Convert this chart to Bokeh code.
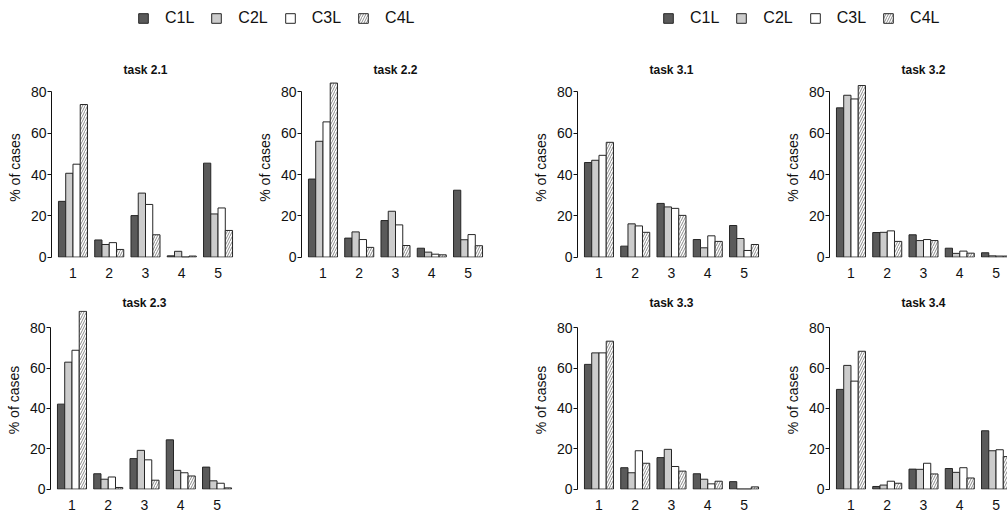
from bokeh.plotting import figure
from bokeh.models import Range1d, FixedTicker, Legend, LegendItem
from bokeh.layouts import column, row
from bokeh.embed import file_html
from bokeh.resources import INLINE

# ---------------- data ----------------
categories = ["1", "2", "3", "4", "5"]
series = ["C1L", "C2L", "C3L", "C4L"]
y_ticks = [0, 20, 40, 60, 80]

# each panel: one list per series (C1L, C2L, C3L, C4L), values per category 1..5
task_2_1 = [[27.0, 8.3, 20.1, 0.6, 45.5],
            [40.6, 6.1, 31.0, 2.8, 20.9],
            [45.0, 7.0, 25.5, 0.0, 23.8],
            [73.9, 3.7, 10.8, 0.5, 12.9]]
task_2_2 = [[37.8, 9.2, 17.7, 4.3, 32.4],
            [56.1, 12.2, 22.2, 2.4, 8.4],
            [65.5, 8.5, 15.6, 1.4, 10.9],
            [84.3, 4.7, 5.6, 1.1, 5.5]]
task_2_3 = [[42.1, 7.6, 15.1, 24.4, 10.9],
            [62.9, 4.9, 19.2, 9.3, 4.1],
            [68.8, 6.0, 14.5, 8.1, 2.9],
            [88.1, 0.8, 4.4, 6.5, 0.6]]
task_3_1 = [[45.8, 5.3, 26.0, 8.5, 15.3],
            [46.9, 16.1, 24.3, 4.5, 9.0],
            [49.3, 15.1, 23.6, 10.3, 3.2],
            [55.6, 12.0, 20.2, 7.6, 6.1]]
task_3_2 = [[72.3, 11.9, 10.8, 4.3, 2.1],
            [78.4, 12.0, 8.0, 1.8, 0.6],
            [76.6, 12.7, 8.5, 2.9, 0.5],
            [83.1, 7.6, 8.0, 1.9, 0.5]]
task_3_3 = [[61.8, 10.6, 15.6, 7.6, 3.7],
            [67.5, 8.1, 19.7, 4.9, 0.0],
            [67.5, 19.0, 11.2, 2.6, 0.0],
            [73.3, 12.8, 8.9, 3.9, 1.1]]
task_3_4 = [[49.4, 1.3, 9.9, 10.2, 28.9],
            [61.3, 2.0, 9.8, 8.3, 19.0],
            [53.5, 3.9, 12.8, 10.6, 19.5],
            [68.3, 2.9, 7.5, 5.5, 16.1]]

# ---------------- styles ----------------
FONT = "Liberation Sans"
LINE = "#262626"
STYLES = [
    dict(fill_color="#5a5a5a"),
    dict(fill_color="#cccccc"),
    dict(fill_color="#ffffff"),
    dict(fill_color="#ffffff", hatch_pattern="/", hatch_color="#8c8c8c",
         hatch_scale=5, hatch_weight=1),
]
PX_PER_UNIT = 188 / 25.92
GROUP = len(series) + 1  # bars per group + one gap


def bar_x(si):
    return [1.5 + GROUP * gi + si for gi in range(len(categories))]


def panel(title, values, width, left, right, top, frame_h, bottom,
          y_end, x_std, title_offset=None):
    frame_w = width - left - right
    x_end = 0.04 + frame_w / PX_PER_UNIT
    p = figure(width=width, height=top + frame_h + bottom,
               x_range=Range1d(0.04, x_end), y_range=Range1d(-0.2, y_end),
               min_border_left=left, min_border_right=right,
               min_border_top=top, min_border_bottom=bottom,
               toolbar_location=None, output_backend="svg", title=title)
    p.outline_line_color = None
    p.grid.visible = False
    p.background_fill_color = "white"
    p.title.text_font = FONT
    p.title.text_font_size = "12px"
    p.title.text_font_style = "bold"
    p.title.text_color = "#111111"
    p.title.standoff = 2
    if title_offset is None:
        p.title.align = "center"
    else:
        p.title.align = "left"
        p.title.offset = title_offset

    for si, s in enumerate(series):
        p.vbar(x=bar_x(si), top=values[si], bottom=0, width=1,
               line_color=LINE, line_width=1, **STYLES[si])

    ya = p.yaxis[0]
    ya.ticker = FixedTicker(ticks=y_ticks)
    ya.bounds = (0, 80)
    ya.axis_label = "% of cases"
    ya.axis_label_text_font = FONT
    ya.axis_label_text_font_size = "14px"
    ya.axis_label_text_font_style = "normal"
    ya.axis_label_text_color = "#111111"
    ya.axis_label_standoff = 5
    ya.major_label_text_font = FONT
    ya.major_label_text_font_size = "14px"
    ya.major_label_text_color = "#111111"
    ya.major_label_standoff = 1
    ya.major_tick_out = 4
    ya.major_tick_in = 0
    ya.minor_tick_line_color = None
    ya.axis_line_color = "#111111"
    ya.major_tick_line_color = "#111111"

    xa = p.xaxis[0]
    centers = [3 + GROUP * gi for gi in range(len(categories))]
    xa.ticker = FixedTicker(ticks=centers)
    xa.major_label_overrides = {c: lab for c, lab in zip(centers, categories)}
    xa.major_label_text_font = FONT
    xa.major_label_text_font_size = "14px"
    xa.major_label_text_color = "#111111"
    xa.major_label_standoff = x_std
    xa.axis_line_color = None
    xa.major_tick_line_color = None
    xa.minor_tick_line_color = None
    return p


# ---------------- legend row ----------------
leg = figure(width=1007, height=36, x_range=Range1d(0, 1), y_range=Range1d(0, 1),
             x_axis_location=None, y_axis_location=None, min_border=0,
             toolbar_location=None, output_backend="svg")
leg.outline_line_color = None
leg.grid.visible = False
# legend-only renderers: a degenerate (zero-size) bar, so nothing shows in the plot
leg_r = [leg.vbar(x=[0.5], top=[0.5], bottom=0.5, width=0, line_color=LINE,
                  line_width=1, line_cap="butt", **STYLES[si])
         for si in range(len(series))]


def make_legend(x):
    return Legend(items=[LegendItem(label=s, renderers=[r]) for s, r in zip(series, leg_r)],
                  orientation="horizontal", location=(x, 9),
                  glyph_width=12, glyph_height=12, label_height=12,
                  label_standoff=16, spacing=16, padding=0, margin=0,
                  border_line_color=None, background_fill_alpha=0,
                  label_text_font=FONT, label_text_font_size="16px",
                  label_text_color="#111111")


leg.add_layout(make_legend(137))
leg.add_layout(make_legend(662))

# ---------------- panels ----------------
TOP = dict(top=41, frame_h=181, bottom=22, y_end=87.0, x_std=4)
BOT = dict(top=30, frame_h=182, bottom=20, y_end=88.5, x_std=4)

p21 = panel("task 2.1", task_2_1, 250, 51, 11, **TOP)
p22 = panel("task 2.2", task_2_2, 276, 51, 37, **TOP)
p31 = panel("task 3.1", task_3_1, 252, 51, 13, **TOP)
p32 = panel("task 3.2", task_3_2, 229, 51, 0, title_offset=72, **TOP)
p23 = panel("task 2.3", task_2_3, 526, 50, 288, **BOT)
p33 = panel("task 3.3", task_3_3, 252, 51, 13, **BOT)
p34 = panel("task 3.4", task_3_4, 229, 51, 0, title_offset=72, **BOT)

layout = column(leg, row(p21, p22, p31, p32), row(p23, p33, p34))

open("out.html", "w").write(file_html(layout, INLINE))
